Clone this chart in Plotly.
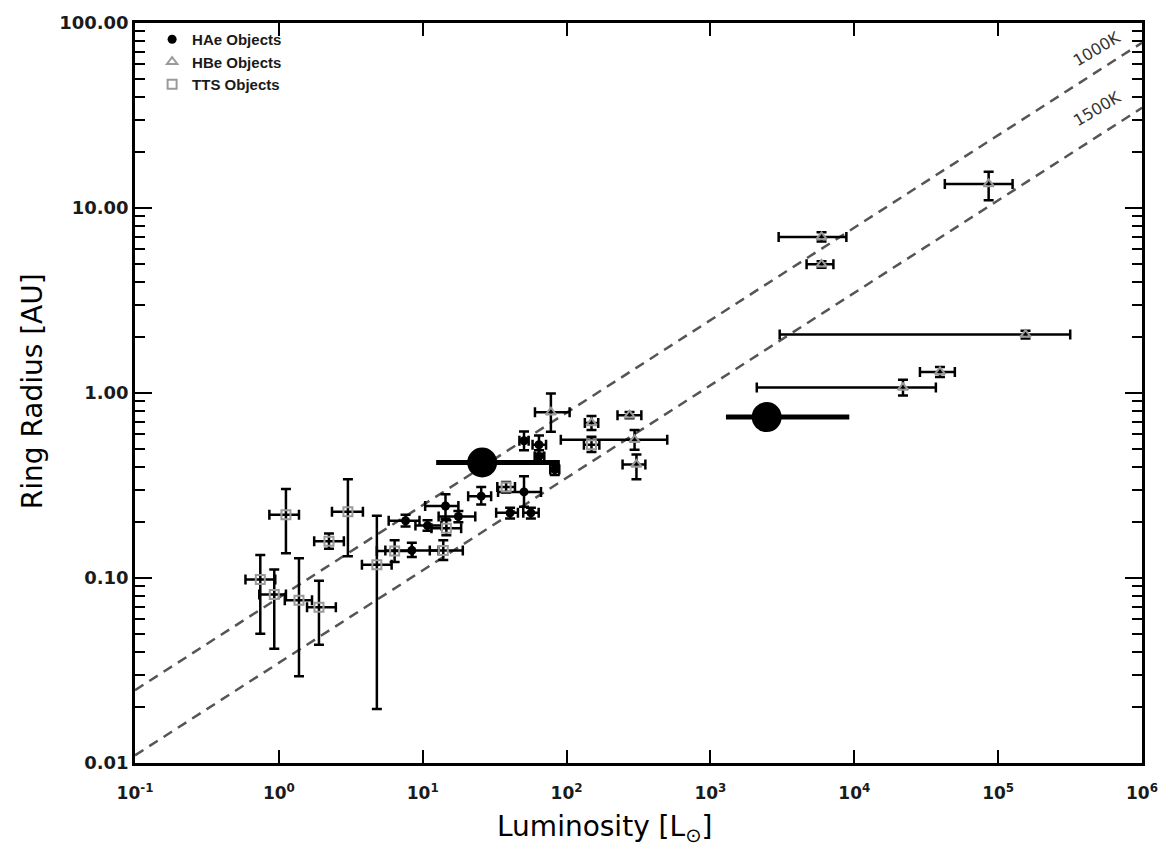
import numpy as np
import plotly.graph_objects as go

# ---- Herbig Ae objects (L in L_sun, R in AU, with lower/upper bounds) ----
hae_L    = [64.3, 64.3, 82.8, 50.6, 25.5, 50.6, 40.5, 56.5, 14.4, 17.7, 7.6, 10.8, 8.4]
hae_L_lo = [58.0, 60.0, 77.0, 47.0, 20.7, 33.4, 32.4, 50.0, 10.4, 12.9, 5.8, 8.9, 5.5]
hae_L_hi = [72.0, 70.0, 89.0, 54.5, 29.9, 66.4, 45.9, 64.0, 17.7, 23.2, 9.5, 13.5, 12.9]
hae_R    = [0.525, 0.453, 0.386, 0.552, 0.277, 0.292, 0.225, 0.225, 0.245, 0.215, 0.204, 0.192, 0.141]
hae_R_lo = [0.47, 0.42, 0.36, 0.49, 0.25, 0.243, 0.21, 0.21, 0.209, 0.20, 0.19, 0.18, 0.13]
hae_R_hi = [0.59, 0.49, 0.41, 0.62, 0.31, 0.355, 0.24, 0.24, 0.284, 0.23, 0.22, 0.205, 0.155]

# ---- Herbig Be objects ----
hbe_L    = [5920, 5920, 1.55e5, 39400, 21800, 85900, 297, 306, 274, 77.8, 149]
hbe_L_lo = [2980, 4660, 3030, 28600, 2100, 42600, 91.2, 245, 226, 60.3, 134]
hbe_L_hi = [8810, 7160, 3.17e5, 50000, 36900, 1.26e5, 501, 353, 331, 105, 166]
hbe_R    = [6.98, 4.96, 2.07, 1.30, 1.07, 13.5, 0.558, 0.411, 0.759, 0.787, 0.689]
hbe_R_lo = [6.6, 4.75, 1.97, 1.22, 0.97, 11.0, 0.494, 0.342, 0.73, 0.617, 0.63]
hbe_R_hi = [7.4, 5.15, 2.17, 1.38, 1.18, 15.7, 0.631, 0.465, 0.79, 0.993, 0.75]

# ---- T Tauri objects ----
tts_L    = [149, 38.0, 1.12, 3.02, 2.23, 0.743, 0.929, 1.38, 1.90, 4.80, 6.38, 13.9, 14.6]
tts_L_lo = [132, 33.0, 0.859, 2.34, 1.76, 0.586, 0.731, 1.10, 1.57, 3.78, 4.8, 11.2, 11.5]
tts_L_hi = [169, 43.8, 1.38, 3.84, 2.83, 0.944, 1.12, 1.70, 2.49, 6.08, 8.5, 19.0, 18.5]
tts_R    = [0.525, 0.310, 0.220, 0.228, 0.158, 0.098, 0.0815, 0.0757, 0.0695, 0.118, 0.140, 0.141, 0.186]
tts_R_lo = [0.48, 0.29, 0.136, 0.131, 0.144, 0.0499, 0.0415, 0.0294, 0.0436, 0.0196, 0.122, 0.125, 0.17]
tts_R_hi = [0.58, 0.33, 0.303, 0.342, 0.174, 0.133, 0.111, 0.128, 0.0966, 0.217, 0.16, 0.16, 0.205]

# ---- New measurements (large symbols) ----
new_L    = [25.9, 2460]
new_L_lo = [12.4, 1282]
new_L_hi = [89.8, 9230]
new_R    = [0.421, 0.741]

# ---- Dust sublimation radius relations ----
T_sub = [1000, 1500]
line_L = [0.1, 1e6]

x_tickvals = [0.1, 1, 10, 100, 1e3, 1e4, 1e5, 1e6]
x_ticktext = ["10<sup>-1</sup>", "10<sup>0</sup>", "10<sup>1</sup>", "10<sup>2</sup>",
              "10<sup>3</sup>", "10<sup>4</sup>", "10<sup>5</sup>", "10<sup>6</sup>"]
y_tickvals = [0.01, 0.1, 1, 10, 100]
y_ticktext = ["0.01", "0.10", "1.00", "10.00", "100.00"]


def errs(v, lo, hi):
    v, lo, hi = np.asarray(v), np.asarray(lo), np.asarray(hi)
    return hi - v, v - lo


fig = go.Figure()

for T in T_sub:
    L = np.array(line_L)
    R = 1.1 * np.sqrt(L / 1000.0) * (1500.0 / T) ** 2
    fig.add_trace(go.Scatter(x=L, y=R, mode="lines", showlegend=False, hoverinfo="skip",
                             line=dict(color="#555555", width=2.5, dash="10px,7px")))

groups = [
    ("HAe Objects", hae_L, hae_L_lo, hae_L_hi, hae_R, hae_R_lo, hae_R_hi,
     dict(symbol="circle", size=9, color="black")),
    ("HBe Objects", hbe_L, hbe_L_lo, hbe_L_hi, hbe_R, hbe_R_lo, hbe_R_hi,
     dict(symbol="triangle-up-open", size=9, color="#9a9a9a", line=dict(width=2))),
    ("TTS Objects", tts_L, tts_L_lo, tts_L_hi, tts_R, tts_R_lo, tts_R_hi,
     dict(symbol="square-open", size=9, color="#9a9a9a", line=dict(width=2))),
]
for name, L, Llo, Lhi, R, Rlo, Rhi, mk in groups:
    xp, xm = errs(L, Llo, Lhi)
    yp, ym = errs(R, Rlo, Rhi)
    fig.add_trace(go.Scatter(
        x=L, y=R, mode="markers", name=name, marker=mk,
        error_x=dict(type="data", symmetric=False, array=xp, arrayminus=xm,
                     color="black", thickness=2.5, width=5),
        error_y=dict(type="data", symmetric=False, array=yp, arrayminus=ym,
                     color="black", thickness=2.5, width=5),
    ))

xp, xm = errs(new_L, new_L_lo, new_L_hi)
fig.add_trace(go.Scatter(
    x=new_L, y=new_R, mode="markers", showlegend=False,
    marker=dict(symbol="circle", size=30, color="black"),
    error_x=dict(type="data", symmetric=False, array=xp, arrayminus=xm,
                 color="black", thickness=5, width=0),
))

tick_font = dict(family="DejaVu Sans", size=17, color="#1a1a1a", weight="bold")

fig.update_layout(
    width=1170, height=853,
    margin=dict(l=135, r=23, t=12, b=90),
    plot_bgcolor="white", paper_bgcolor="white",
    xaxis=dict(type="log", range=[-1, 6], tickvals=x_tickvals, ticktext=x_ticktext,
               ticks="inside", ticklen=13, tickwidth=2, tickcolor="black",
               showline=True, linewidth=2.5, linecolor="black", mirror="ticks",
               showgrid=False, zeroline=False, tickfont=tick_font, ticklabelstandoff=13),
    yaxis=dict(type="log", range=[-2, 2], tickvals=y_tickvals, ticktext=y_ticktext,
               ticks="inside", ticklen=17, tickwidth=2, tickcolor="black",
               showline=True, linewidth=2.5, linecolor="black", mirror="ticks",
               showgrid=False, zeroline=False,
               tickfont=dict(family="DejaVu Sans", size=18, color="#1a1a1a", weight="bold"),
               minor=dict(ticks="inside", ticklen=10, tickwidth=2, tickcolor="black",
                          showgrid=False,
                          tickvals=[m * 10.0 ** k for k in range(-2, 2) for m in range(2, 10)])),
    legend=dict(x=0.017, y=1.0, xanchor="left", yanchor="top",
                bgcolor="rgba(0,0,0,0)", borderwidth=0, tracegroupgap=0,
                font=dict(family="Liberation Sans", size=15, color="#1a1a1a", weight="bold")),
    annotations=[
        dict(text="Ring Radius [AU]", xref="paper", yref="paper", x=-0.1018, y=0.503,
             textangle=-90, showarrow=False, xanchor="center", yanchor="middle",
             font=dict(family="DejaVu Sans", size=28, color="black")),
        dict(text="Luminosity [L<sub>⊙</sub>]", xref="paper", yref="paper", x=0.466, y=-0.089,
             showarrow=False, xanchor="center", yanchor="middle",
             font=dict(family="DejaVu Sans", size=28, color="black")),
        dict(text="1000K", x=5.69, y=1.86, showarrow=False, textangle=-31,
             xanchor="center", yanchor="middle",
             font=dict(family="DejaVu Sans", size=16, color="#333333")),
        dict(text="1500K", x=5.69, y=1.54, showarrow=False, textangle=-31,
             xanchor="center", yanchor="middle",
             font=dict(family="DejaVu Sans", size=16, color="#333333")),
    ],
)

fig.write_html("out.html")
